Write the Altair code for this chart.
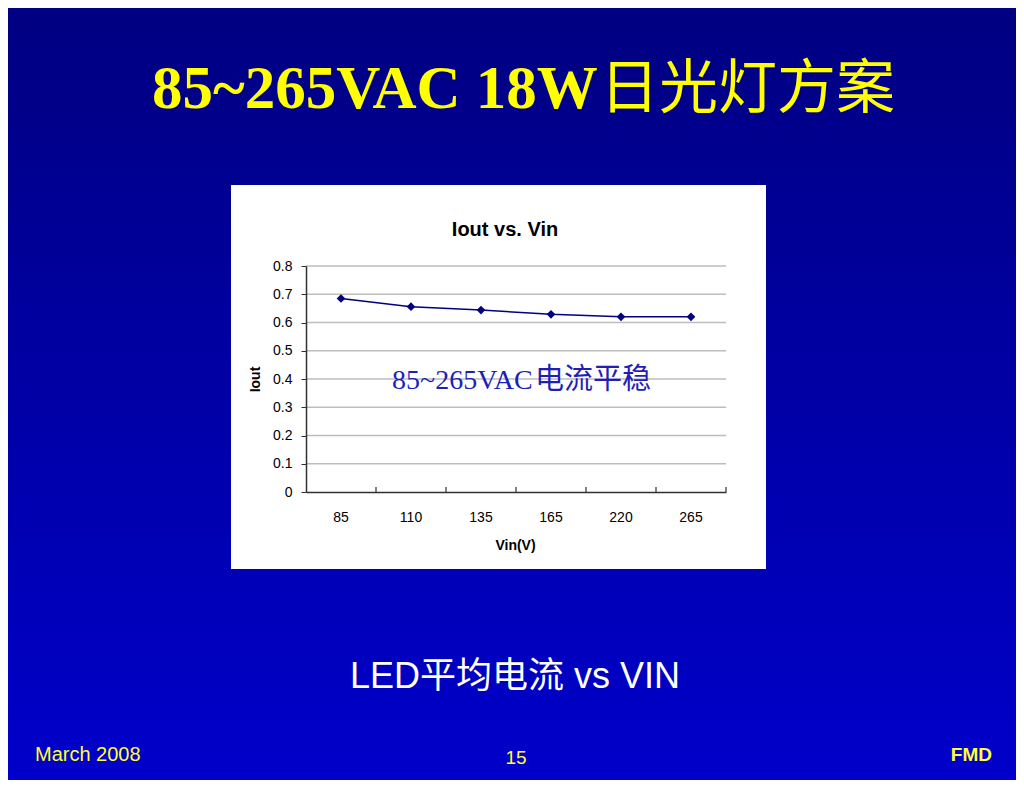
import altair as alt
import pandas as pd

# ---- data ----
VIN = ["85", "110", "135", "165", "220", "265"]
IOUT = [0.685, 0.656, 0.644, 0.629, 0.620, 0.620]
Y_TICKS = [0, 0.1, 0.2, 0.3, 0.4, 0.5, 0.6, 0.7, 0.8]
GRID_LINES = [0.1, 0.2, 0.3, 0.4, 0.5, 0.6, 0.7, 0.8]

SLIDE_TITLE_LATIN = "85~265VAC 18W"
SLIDE_TITLE_CJK = "日光灯方案"
CHART_TITLE = "Iout vs. Vin"
X_TITLE = "Vin(V)"
Y_TITLE = "Iout"
NOTE_LATIN = "85~265VAC"
NOTE_CJK = "电流平稳"
CAPTION = "LED平均电流 vs VIN"
FOOT_LEFT = "March 2008"
FOOT_MID = "15"
FOOT_RIGHT = "FMD"

# ---- layout ----
W, H = 420, 226
PAD = {"left": 298, "top": 258, "right": 290, "bottom": 288}

df = pd.DataFrame({"vin": VIN, "iout": IOUT})
grid_df = pd.DataFrame({"iout": GRID_LINES})
one = pd.DataFrame({"k": [0]})

SANS = "Liberation Sans"
CJK = "Noto Sans CJK SC"

yscale = alt.Scale(domain=[0, 0.8], nice=False)
xscale = alt.Scale(type="band", paddingInner=0, paddingOuter=0)

x_axis = alt.Axis(
    title=X_TITLE, titleFont=SANS, titleFontSize=14, titleFontWeight="bold",
    titleColor="black", titleX=209, titleY=53, titleBaseline="middle",
    labelFont=SANS, labelFontSize=14, labelColor="black", labelAngle=0,
    labelPadding=18, ticks=False, domainColor="#303030", domainWidth=1.5,
    grid=False, zindex=1,
)
y_axis = alt.Axis(
    title=Y_TITLE, titleFont=SANS, titleFontSize=14, titleFontWeight="bold",
    titleColor="black", titleX=-51, titleY=113, titleBaseline="middle",
    titleAngle=270,
    values=Y_TICKS, format="~g",
    labelFont=SANS, labelFontSize=14, labelColor="black", labelPadding=9,
    tickSize=5, tickColor="#303030", domainColor="#303030", domainWidth=1.5,
    grid=False, zindex=1,
)

# background gradient
bg = alt.Chart(one).mark_rect(
    fill=alt.LinearGradient(
        gradient="linear",
        stops=[alt.GradientStop(color="#000081", offset=0),
               alt.GradientStop(color="#0000CB", offset=1)],
        x1=0, x2=0, y1=0, y2=1,
    )
).encode(
    x=alt.value(-PAD["left"]), x2=alt.value(W + PAD["right"]),
    y=alt.value(-PAD["top"]), y2=alt.value(H + PAD["bottom"]),
)

# white chart box
box = alt.Chart(one).mark_rect(fill="white").encode(
    x=alt.value(-75), x2=alt.value(460), y=alt.value(-81), y2=alt.value(303)
)

grid = alt.Chart(grid_df).mark_rule(color="#BDBDBD", strokeWidth=1.5).encode(
    y=alt.Y("iout:Q", scale=yscale, axis=y_axis),
    x=alt.value(0), x2=alt.value(W),
)

xticks = alt.Chart(df).mark_rule(color="#303030", strokeWidth=1.2).encode(
    x=alt.X("vin:N", sort=VIN, scale=xscale, bandPosition=1, axis=x_axis),
    y=alt.value(H - 5), y2=alt.value(H),
)

line = alt.Chart(df).mark_line(color="#000080", strokeWidth=1.5).encode(
    x=alt.X("vin:N", sort=VIN, scale=xscale, bandPosition=0.5, axis=x_axis),
    y=alt.Y("iout:Q", scale=yscale, axis=y_axis),
)
points = alt.Chart(df).mark_point(
    shape="diamond", filled=True, color="#000080", size=75, opacity=1
).encode(
    x=alt.X("vin:N", sort=VIN, scale=xscale, bandPosition=0.5, axis=x_axis),
    y=alt.Y("iout:Q", scale=yscale, axis=y_axis),
)


def label(text, x, y, size, color, font, weight="normal", align="left"):
    return alt.Chart(pd.DataFrame({"t": [text]})).mark_text(
        font=font, fontSize=size, fontWeight=weight, color=color,
        align=align, baseline="alphabetic",
    ).encode(text="t:N", x=alt.value(x), y=alt.value(y))


texts = [
    label(SLIDE_TITLE_LATIN, -154, -158, 61, "#FFFF00", "Liberation Serif", "bold"),
    label(SLIDE_TITLE_CJK, 294, -158, 59, "#FFFF00", CJK),
    label(CHART_TITLE, 199, -30, 20, "black", SANS, "bold", "center"),
    label(NOTE_LATIN, 86, 123, 28, "#1F1FB8", "Liberation Serif"),
    label(NOTE_CJK, 229, 123, 29, "#1F1FB8", CJK),
    label(CAPTION, 209, 422, 36, "white", "Liberation Sans, Noto Sans CJK SC", "normal", "center"),
    label(FOOT_LEFT, -271, 495, 20, "#FFFF33", SANS),
    label(FOOT_MID, 210, 498, 19, "#FFFF33", SANS, "normal", "center"),
    label(FOOT_RIGHT, 686, 495, 19, "#FFFF33", SANS, "bold", "right"),
]

chart = alt.layer(bg, box, grid, xticks, line, points, *texts).properties(
    width=W, height=H, padding=PAD,
    autosize=alt.AutoSizeParams(type="none"),
    background="#000080",
).configure_view(stroke=None)

chart.save("out.html", embed_options={"renderer": "svg", "actions": False})
